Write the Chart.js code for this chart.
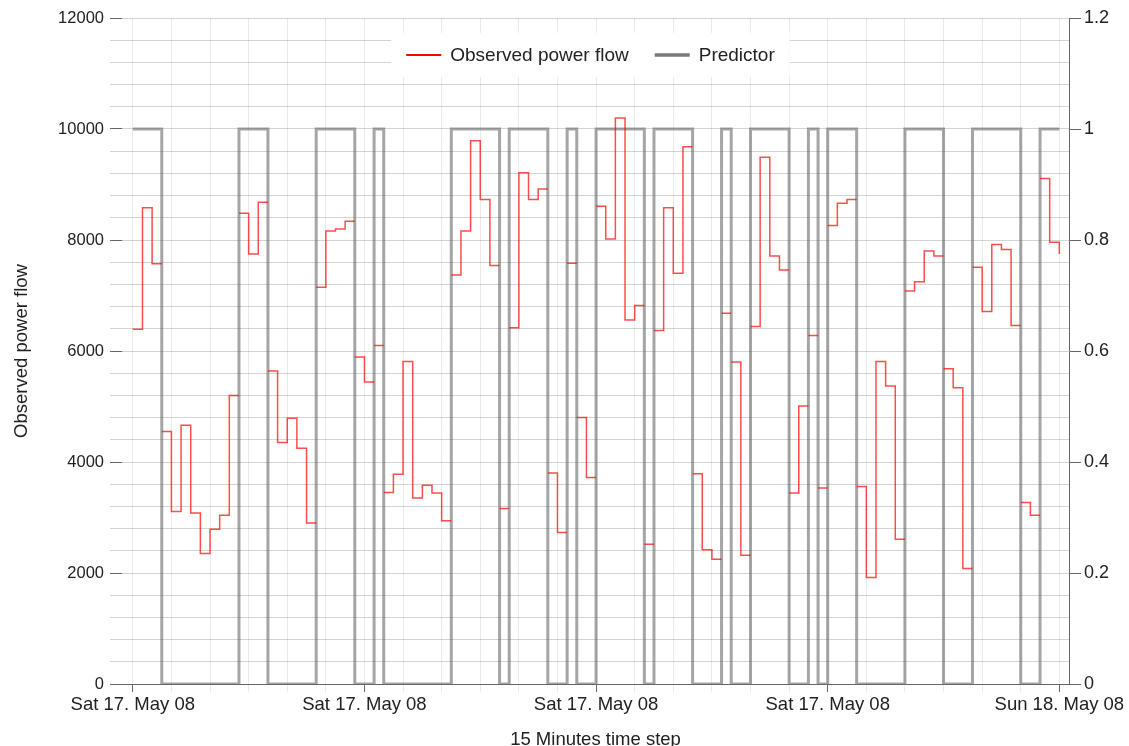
<!DOCTYPE html>
<html>
<head>
<meta charset="utf-8">
<title>Observed power flow</title>
<script src="https://cdn.jsdelivr.net/npm/chart.js@4.4.1/dist/chart.umd.min.js"></script>
<style>
  html, body { margin: 0; padding: 0; background: #fff; }
  #wrap { width: 1129px; height: 746px; }
</style>
</head>
<body>
<div id="wrap"><canvas id="flowChart" width="1129" height="746"></canvas></div>
<script>
// one value per 15 minute step, Sat 17 May 08 00:00 -> Sun 18 May 08 00:00
const observed = [
  6390, 8580, 7570, 4550, 3110, 4660, 3080, 2350, 2790, 3040, 5200, 8480,
  7750, 8680, 5640, 4350, 4790, 4250, 2900, 7150, 8160, 8200, 8340, 5890,
  5440, 6100, 3450, 3780, 5810, 3350, 3580, 3440, 2940, 7370, 8160, 9790,
  8730, 7540, 3160, 6420, 9210, 8730, 8920, 3800, 2730, 7580, 4800, 3720,
  8610, 8020, 10200, 6560, 6820, 2520, 6370, 8580, 7400, 9680, 3790, 2420,
  2250, 6680, 5800, 2320, 6440, 9490, 7710, 7460, 3440, 5010, 6280, 3530,
  8260, 8660, 8730, 3560, 1920, 5810, 5370, 2610, 7080, 7250, 7800, 7710,
  5680, 5340, 2080, 7510, 6710, 7920, 7830, 6460, 3270, 3040, 9110, 7960,
  7750
];
const predictor = [
  1, 1, 1, 0, 0, 0, 0, 0, 0, 0, 0, 1,
  1, 1, 0, 0, 0, 0, 0, 1, 1, 1, 1, 0,
  0, 1, 0, 0, 0, 0, 0, 0, 0, 1, 1, 1,
  1, 1, 0, 1, 1, 1, 1, 0, 0, 1, 0, 0,
  1, 1, 1, 1, 1, 0, 1, 1, 1, 1, 0, 0,
  0, 1, 0, 0, 1, 1, 1, 1, 0, 0, 1, 0,
  1, 1, 1, 0, 0, 0, 0, 0, 1, 1, 1, 1,
  0, 0, 0, 1, 1, 1, 1, 1, 0, 0, 1, 1,
  1
];
const tickSteps = [0, 24, 48, 72, 96];
const tickLabels = ['Sat 17. May 08', 'Sat 17. May 08', 'Sat 17. May 08', 'Sat 17. May 08', 'Sun 18. May 08'];

const FONT = "'Liberation Sans', Arial, sans-serif";
const textCol = '#222';
const axisCol = '#666';
const hGrid = 'rgba(0,0,0,0.17)';
const vGrid = 'rgba(0,0,0,0.08)';

// the observed line is cut every time the predictor switches
const observedPts = [];
observed.forEach((v, i) => {
  observedPts.push({x: i, y: v});
  if (i < observed.length - 1 && predictor[i + 1] !== predictor[i]) {
    observedPts.push({x: i + 1, y: v});
    observedPts.push({x: i + 1, y: null});
  }
});
const predictorPts = predictor.map((v, i) => ({x: i, y: v}));

// legend sits inside the plot, near the top centre, on a white box
const legendInChart = {
  id: 'legendInChart',
  beforeDatasetsDraw(chart) {
    const {ctx, chartArea} = chart;
    const sets = chart.data.datasets;
    ctx.save();
    ctx.font = '19px ' + FONT;
    const sample = 35, gapText = 9, gapItem = 26, pad = 15;
    const widths = sets.map(d => ctx.measureText(d.label).width);
    const total = widths.reduce((a, w) => a + sample + gapText + w, 0) + gapItem * (sets.length - 1);
    const cy = chartArea.top + 37;
    let x = (chartArea.left + chartArea.right) / 2 - 5 - total / 2;
    ctx.fillStyle = '#fff';
    ctx.fillRect(x - pad, cy - 22, total + pad * 2, 44);
    sets.forEach((d, i) => {
      ctx.strokeStyle = d.legendColor;
      ctx.lineWidth = d.legendWidth;
      ctx.beginPath();
      ctx.moveTo(x, cy);
      ctx.lineTo(x + sample, cy);
      ctx.stroke();
      x += sample + gapText;
      ctx.fillStyle = textCol;
      ctx.textBaseline = 'middle';
      ctx.fillText(d.label, x, cy + 1);
      x += widths[i] + gapItem;
    });
    ctx.restore();
  }
};

new Chart(document.getElementById('flowChart'), {
  type: 'line',
  data: {
    datasets: [{
      label: 'Observed power flow',
      data: observedPts,
      yAxisID: 'y',
      borderColor: 'rgba(255,0,0,0.7)',
      legendColor: '#ff0000',
      legendWidth: 2,
      borderWidth: 1.5,
      stepped: true,
      spanGaps: false,
      pointRadius: 0
    }, {
      label: 'Predictor',
      data: predictorPts,
      yAxisID: 'y2',
      borderColor: 'rgba(100,100,100,0.58)',
      legendColor: '#7a7a7a',
      legendWidth: 3.5,
      borderWidth: 3,
      stepped: true,
      pointRadius: 0
    }]
  },
  options: {
    responsive: false,
    animation: false,
    layout: { padding: { top: 18, left: 0, right: 0, bottom: 0 } },
    plugins: {
      legend: { display: false },
      tooltip: { enabled: false }
    },
    scales: {
      x: {
        type: 'linear',
        min: -1.12,
        max: 97,
        afterBuildTicks(scale) {
          const t = [];
          for (let v = 0; v <= 96; v += 4) t.push({value: v});
          scale.ticks = t;
        },
        afterFit(scale) { scale.height = 62; },
        ticks: {
          autoSkip: false,
          maxRotation: 0,
          padding: 2,
          color: textCol,
          font: { family: FONT, size: 18.5 },
          callback(value) {
            const k = tickSteps.indexOf(value);
            return k >= 0 ? tickLabels[k] : '';
          }
        },
        grid: {
          color: vGrid,
          tickLength: 8,
          tickColor: c => (c.tick && tickSteps.includes(c.tick.value)) ? axisCol : vGrid
        },
        border: { display: true, color: axisCol, width: 1 },
        title: {
          display: true,
          text: '15 Minutes time step',
          color: textCol,
          padding: 0,
          font: { family: FONT, size: 18.5, lineHeight: 0.65 }
        }
      },
      y: {
        position: 'left',
        min: 0,
        max: 12000,
        afterFit(scale) { scale.width = 122; },
        ticks: {
          stepSize: 400,
          autoSkip: false,
          padding: 6,
          color: textCol,
          font: { family: FONT, size: 16.5 },
          callback(value) { return value % 2000 === 0 ? String(value) : ''; }
        },
        grid: {
          color: hGrid,
          tickLength: 12,
          tickColor: c => (c.tick && c.tick.value % 2000 === 0) ? axisCol : hGrid
        },
        border: { display: false },
        title: {
          display: true,
          text: 'Observed power flow',
          color: textCol,
          padding: { top: 11, bottom: 0 },
          font: { family: FONT, size: 18.5 }
        }
      },
      y2: {
        position: 'right',
        min: 0,
        max: 1.2,
        afterFit(scale) { scale.width = 60; },
        ticks: {
          stepSize: 0.2,
          padding: 3,
          color: textCol,
          font: { family: FONT, size: 18 },
          callback(value) { return String(Math.round(value * 10) / 10); }
        },
        grid: {
          drawOnChartArea: false,
          tickLength: 12,
          tickColor: axisCol
        },
        border: { display: true, color: axisCol, width: 1 }
      }
    }
  },
  plugins: [legendInChart]
});
</script>
</body>
</html>
